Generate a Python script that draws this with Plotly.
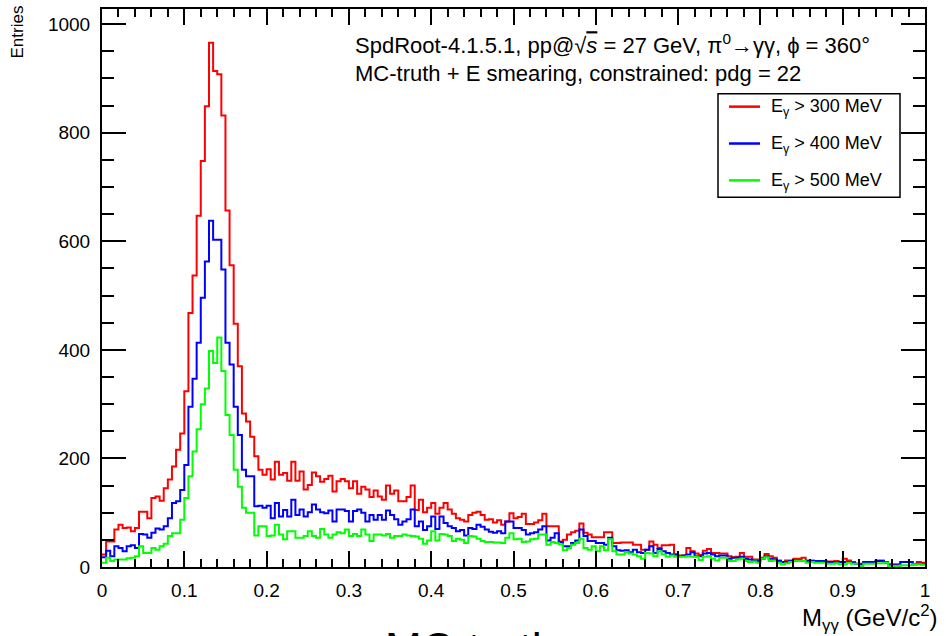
import numpy as np
import plotly.graph_objects as go

# ---------------- data (200 bins, 0..1 GeV/c^2, width 0.005) ----------------
x_min, x_max, n_bins = 0.0, 1.0, 200

e300 = [23, 47, 47, 69, 78, 72, 73, 66, 72, 102, 102, 90, 127, 130, 122, 145, 161, 185, 216, 246,
        324, 468, 537, 647, 748, 849, 966, 914, 908, 832, 657, 556, 448, 370, 283, 268, 240, 204, 179, 170,
        180, 161, 194, 170, 173, 159, 194, 159, 176, 143, 151, 174, 167, 157, 162, 168, 139, 158, 162, 158,
        145, 158, 135, 148, 143, 129, 141, 130, 124, 150, 135, 141, 121, 121, 129, 150, 105, 124, 101, 109,
        118, 98, 109, 118, 106, 98, 90, 87, 84, 96, 100, 102, 96, 87, 88, 82, 86, 78, 84, 99,
        90, 92, 98, 79, 79, 82, 86, 98, 75, 75, 75, 47, 50, 60, 64, 67, 80, 63, 60, 55,
        55, 55, 64, 64, 44, 44, 45, 45, 45, 41, 41, 32, 32, 47, 41, 35, 40, 40, 41, 23,
        21, 21, 35, 29, 25, 22, 30, 33, 26, 26, 25, 25, 20, 18, 19, 26, 19, 19, 14, 14,
        17, 24, 20, 17, 12, 9, 12, 12, 15, 15, 17, 12, 12, 11, 11, 11, 10, 10, 11, 9,
        15, 12, 9, 6, 6, 9, 9, 9, 12, 12, 9, 5, 5, 5, 9, 9, 9, 5, 9, 8]

e400 = [18, 30, 20, 38, 35, 29, 38, 40, 35, 61, 60, 54, 63, 71, 69, 75, 90, 118, 121, 142,
        188, 295, 347, 413, 496, 563, 638, 603, 603, 548, 413, 373, 295, 243, 179, 167, 167, 112, 113, 109,
        113, 90, 118, 93, 105, 93, 124, 96, 106, 93, 101, 115, 106, 101, 99, 104, 84, 106, 106, 103,
        84, 103, 106, 100, 84, 96, 87, 96, 87, 104, 96, 88, 78, 84, 88, 106, 75, 84, 68, 75,
        93, 70, 93, 81, 75, 72, 66, 68, 58, 72, 70, 78, 74, 69, 65, 63, 66, 62, 84, 84,
        72, 72, 68, 60, 62, 64, 69, 75, 49, 54, 62, 46, 38, 38, 44, 49, 69, 57, 48, 48,
        44, 44, 41, 54, 38, 31, 30, 31, 27, 32, 27, 26, 32, 38, 26, 33, 29, 26, 23, 23,
        20, 21, 23, 27, 20, 20, 25, 26, 23, 20, 21, 21, 15, 17, 17, 19, 15, 14, 11, 11,
        15, 20, 15, 14, 11, 9, 9, 11, 12, 12, 11, 11, 11, 11, 11, 11, 9, 9, 8, 9,
        9, 9, 8, 6, 5, 9, 9, 9, 11, 11, 8, 3, 3, 3, 9, 9, 9, 5, 6, 5]

e500 = [8, 17, 11, 14, 14, 14, 16, 17, 20, 38, 26, 26, 35, 32, 38, 43, 57, 62, 62, 87,
        127, 167, 213, 254, 300, 329, 398, 376, 423, 361, 280, 243, 179, 148, 109, 100, 100, 58, 75, 75,
        57, 58, 78, 60, 51, 66, 66, 54, 54, 57, 66, 57, 54, 70, 60, 54, 60, 64, 62, 69,
        57, 61, 57, 69, 60, 48, 60, 60, 58, 61, 54, 57, 57, 60, 58, 57, 56, 52, 43, 49,
        66, 49, 61, 60, 57, 48, 52, 50, 44, 57, 56, 52, 48, 46, 46, 45, 45, 44, 54, 62,
        51, 52, 46, 47, 51, 52, 60, 60, 41, 46, 44, 42, 31, 35, 41, 44, 52, 35, 32, 38,
        29, 38, 31, 51, 29, 23, 23, 27, 25, 23, 20, 15, 26, 25, 20, 29, 23, 19, 21, 19,
        19, 19, 20, 19, 19, 13, 19, 20, 15, 12, 17, 17, 11, 11, 14, 15, 11, 9, 10, 8,
        15, 18, 11, 12, 8, 5, 7, 9, 11, 11, 11, 8, 9, 8, 8, 8, 6, 6, 7, 5,
        5, 8, 6, 6, 2, 6, 6, 6, 7, 7, 8, 2, 2, 2, 3, 3, 3, 5, 5, 4]

series_names = ["E<sub>γ</sub> > 300 MeV", "E<sub>γ</sub> > 400 MeV", "E<sub>γ</sub> > 500 MeV"]
series_vals = [e300, e400, e500]
series_cols = ["#ff0000", "#0000ff", "#00ff00"]

x_ticks_major = 0.1
y_ticks_major = 200
y_max = 1028

# ---------------- figure ----------------
W, H = 946, 636
ML, MR, MT, MB = 102, 21, 7, 69
PW, PH = W - ML - MR, H - MT - MB

def px(xp):
    return (xp - ML) / PW

def py(yp):
    return (H - MB - yp) / PH

edges = np.linspace(x_min, x_max, n_bins + 1)
FONT = "Liberation Sans, Arial, Helvetica, sans-serif"

fig = go.Figure()
for name, vals, col in zip(series_names, series_vals, series_cols):
    fig.add_trace(go.Scatter(
        x=list(edges[:-1]) + [edges[-1]],
        y=list(vals) + [vals[-1]],
        mode="lines", line=dict(color=col, width=2, shape="hv"),
        name=name, showlegend=False, hoverinfo="skip"))

axis_common = dict(showgrid=False, zeroline=False, showline=True, linecolor="black",
                   linewidth=2, mirror="allticks", ticks="inside", tickcolor="black",
                   tickwidth=1.5, tickfont=dict(family=FONT, size=19, color="black"))

fig.update_xaxes(range=[x_min, x_max], dtick=x_ticks_major, tick0=0, ticklen=16,
                 ticklabelstandoff=5,
                 minor=dict(dtick=0.02, ticks="inside", ticklen=8, tickcolor="black", tickwidth=1.5),
                 **axis_common)
fig.update_yaxes(range=[0, y_max], dtick=y_ticks_major, tick0=0, ticklen=24,
                 ticklabelstandoff=6,
                 minor=dict(dtick=50, ticks="inside", ticklen=12, tickcolor="black", tickwidth=1.5),
                 **axis_common)

ann = []
ann.append(dict(text="Entries", textangle=-90, xref="paper", yref="paper",
                x=px(18), y=py(2), xanchor="center", yanchor="top", showarrow=False,
                font=dict(family=FONT, size=17, color="black")))
ann.append(dict(text="M<sub>γγ</sub> (GeV/c<sup>2</sup>)", xref="paper", yref="paper",
                x=px(939), y=py(618), xanchor="right", yanchor="middle", showarrow=False,
                font=dict(family=FONT, size=24, color="black")))
ann.append(dict(text="SpdRoot-4.1.5.1, pp@√<span style='text-decoration:overline'><i>s</i></span> = 27 GeV, π<sup>0</sup>→γγ, ϕ = 360°",
                xref="paper", yref="paper", x=px(353), y=py(42), xanchor="left", yanchor="middle",
                showarrow=False, font=dict(family=FONT, size=22, color="black")))
ann.append(dict(text="MC-truth + E smearing, constrained: pdg = 22",
                xref="paper", yref="paper", x=px(353), y=py(72), xanchor="left", yanchor="middle",
                showarrow=False, font=dict(family=FONT, size=22, color="black")))
ann.append(dict(text="MC-truth", xref="paper", yref="paper", x=px(470), y=py(622),
                xanchor="center", yanchor="top", showarrow=False,
                font=dict(family=FONT, size=44, color="black")))

shapes = []
# legend box
shapes.append(dict(type="rect", xref="paper", yref="paper", x0=px(718), x1=px(900),
                   y0=py(196), y1=py(92), line=dict(color="black", width=1.5), fillcolor="white",
                   layer="above"))
leg_y = [105, 142, 179]
for i, (name, col) in enumerate(zip(series_names, series_cols)):
    shapes.append(dict(type="line", xref="paper", yref="paper", x0=px(729), x1=px(760),
                       y0=py(leg_y[i]), y1=py(leg_y[i]), line=dict(color=col, width=2.5),
                       layer="above"))
    ann.append(dict(text=name, xref="paper", yref="paper", x=px(769), y=py(leg_y[i] + 1),
                    xanchor="left", yanchor="middle", showarrow=False,
                    font=dict(family=FONT, size=18, color="black")))

fig.update_layout(width=W, height=H, margin=dict(l=ML, r=MR, t=MT, b=MB),
                  paper_bgcolor="white", plot_bgcolor="white",
                  annotations=ann, shapes=shapes, showlegend=False)

fig.write_html("out.html")
